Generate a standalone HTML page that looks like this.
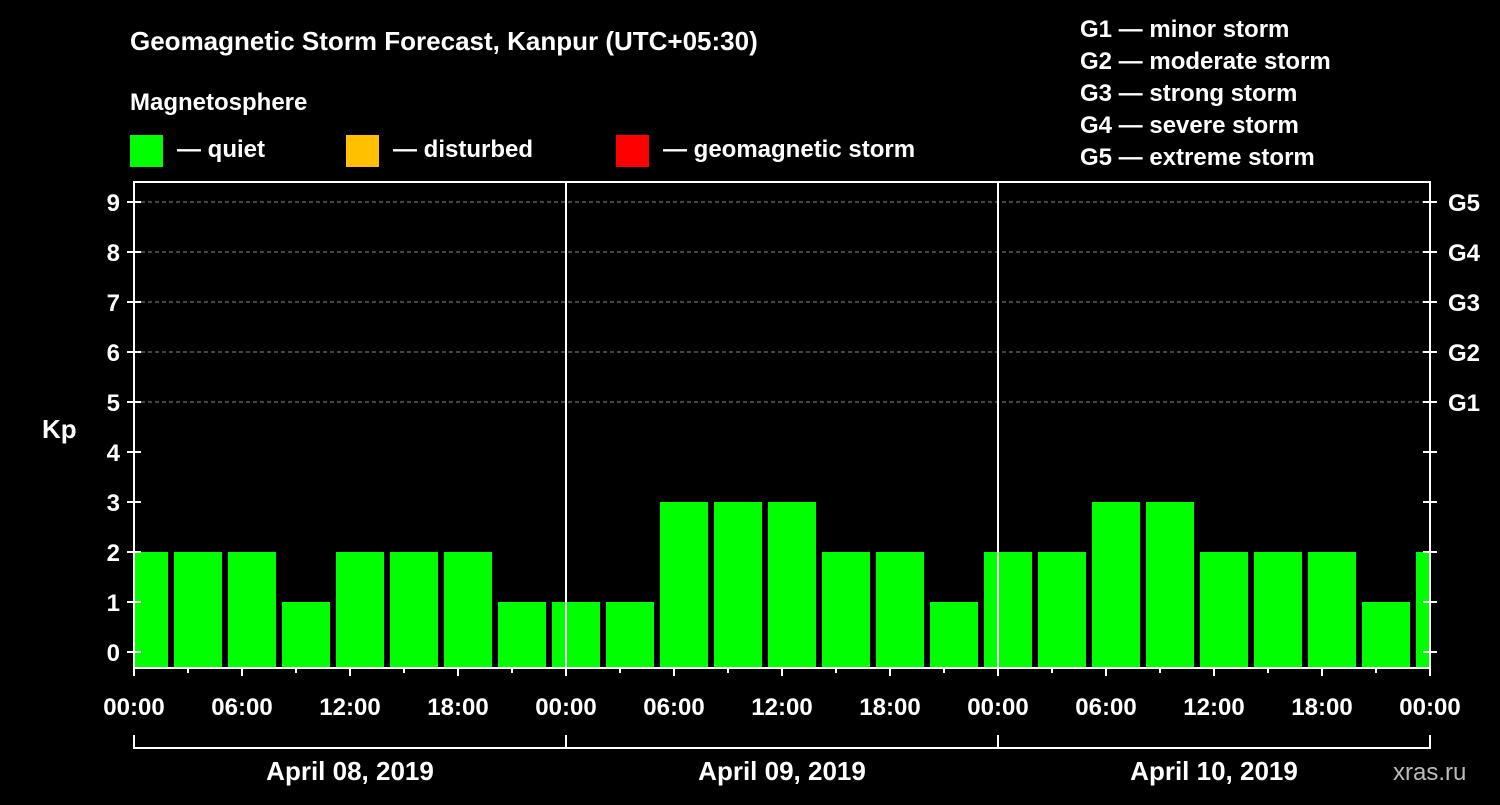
<!DOCTYPE html>
<html><head><meta charset="utf-8"><style>
body{margin:0;background:#000;}
svg text{font-family:"Liberation Sans",Arial,sans-serif;font-weight:bold;fill:#fff;}
</style></head><body>
<svg id="chart" width="1500" height="800" viewBox="0 0 1500 800">
<rect width="1500" height="800" fill="#000"/>
<text x="130" y="50" font-size="26">Geomagnetic Storm Forecast, Kanpur (UTC+05:30)</text>
<text x="130" y="110" font-size="24">Magnetosphere</text>
<g><rect x="130" y="135" width="33" height="32" fill="#00ff00"/><text x="177" y="157" font-size="24">— quiet</text></g>
<g><rect x="346" y="135" width="33" height="32" fill="#ffc000"/><text x="393" y="157" font-size="24">— disturbed</text></g>
<g><rect x="616" y="135" width="33" height="32" fill="#ff0000"/><text x="663" y="157" font-size="24">— geomagnetic storm</text></g>
<g font-size="24">
<text x="1080" y="37">G1 — minor storm</text>
<text x="1080" y="69">G2 — moderate storm</text>
<text x="1080" y="101">G3 — strong storm</text>
<text x="1080" y="133">G4 — severe storm</text>
<text x="1080" y="165">G5 — extreme storm</text>
</g>
<text x="42" y="438" font-size="26">Kp</text>
<text x="1393" y="780" font-size="24" fill="#bbb" style="fill:#bbb;font-weight:normal">xras.ru</text>
<g id="plot"></g>
</svg>
<script>
const kpValues=[2,2,2,1,2,2,2,1,1,1,3,3,3,2,2,1,2,2,3,3,2,2,2,1,2];
const yTicks=[0,1,2,3,4,5,6,7,8,9];
const gLabels=["G1","G2","G3","G4","G5"];
const gLevels=[5,6,7,8,9];
const timeLabels=["00:00","06:00","12:00","18:00","00:00","06:00","12:00","18:00","00:00","06:00","12:00","18:00","00:00"];
const dayLabels=["April 08, 2019","April 09, 2019","April 10, 2019"];

const NS="http://www.w3.org/2000/svg";
const L=134,R=1430,T=182,B=668;
const dayW=432, hourW=dayW/24;
const y=v=>652-v*50;
const xh=h=>L+h*hourW; // hours from start
const g=document.getElementById('plot');
function mk(t,a,p){const e=document.createElementNS(NS,t);for(const k in a)e.setAttribute(k,a[k]);(p||g).appendChild(e);return e;}
const clip=mk('clipPath',{id:'pc'});mk('rect',{x:L,y:T,width:R-L,height:B-T},clip);
// grid
gLevels.forEach((v,i)=>{
 const l=mk('line',{x1:L,x2:R,y1:y(v),y2:y(v),stroke:'#888','stroke-dasharray':'4,3','stroke-width':1});
 
 const t=mk('text',{x:1448,y:y(v)+9,'font-size':24});t.textContent=gLabels[i];
 
});
// bars
const bg=mk('g',{'clip-path':'url(#pc)'});

const offset=-1-(134-117)/hourW; // first slot start in hours
kpValues.forEach((v,i)=>{
 const s=xh(-(117-134)/-hourW*0)+0;
 const x0=L+(-17)+i*3*hourW;
 const r=mk('rect',{x:x0+3,y:y(v),width:3*hourW-6,height:B-y(v),fill:v>=5?'#ff0000':(v>=4?'#ffc000':'#00ff00')},bg);
 
});
// day separators
[1,2].forEach(d=>{const l=mk('line',{x1:L+d*dayW,x2:L+d*dayW,y1:T,y2:B,stroke:'#fff','stroke-width':2});
 });
// frame
const f=mk('rect',{x:L,y:T,width:R-L,height:B-T,fill:'none',stroke:'#fff','stroke-width':2});

// y ticks
yTicks.forEach(v=>{
 mk('line',{x1:L-7,x2:L+7,y1:y(v),y2:y(v),stroke:'#fff','stroke-width':2});
 mk('line',{x1:R-7,x2:R+7,y1:y(v),y2:y(v),stroke:'#fff','stroke-width':2});
 const t=mk('text',{x:L-14,y:y(v)+9,'font-size':24,'text-anchor':'end'});t.textContent=v;
 
});
// x ticks
timeLabels.forEach((s,i)=>{
 const x=xh(i*6);
 mk('line',{x1:x,x2:x,y1:B,y2:B+8,stroke:'#fff','stroke-width':2});
 const t=mk('text',{x:x,y:715,'font-size':24,'text-anchor':'middle'});t.textContent=s;
 
});
for(let h=3;h<72;h+=6){mk('line',{x1:xh(h),x2:xh(h),y1:B,y2:B+5,stroke:'#fff','stroke-width':2});}
// day bracket
mk('line',{x1:L,x2:R,y1:748,y2:748,stroke:'#fff','stroke-width':2});
dayLabels.forEach((s,i)=>{
 const t=mk('text',{x:L+(i+0.5)*dayW,y:780,'font-size':26,'text-anchor':'middle'});t.textContent=s;
 
});
[0,1,2,3].forEach(d=>mk('line',{x1:L+d*dayW,x2:L+d*dayW,y1:735,y2:749,stroke:'#fff','stroke-width':2}));
</script>
</body></html>
